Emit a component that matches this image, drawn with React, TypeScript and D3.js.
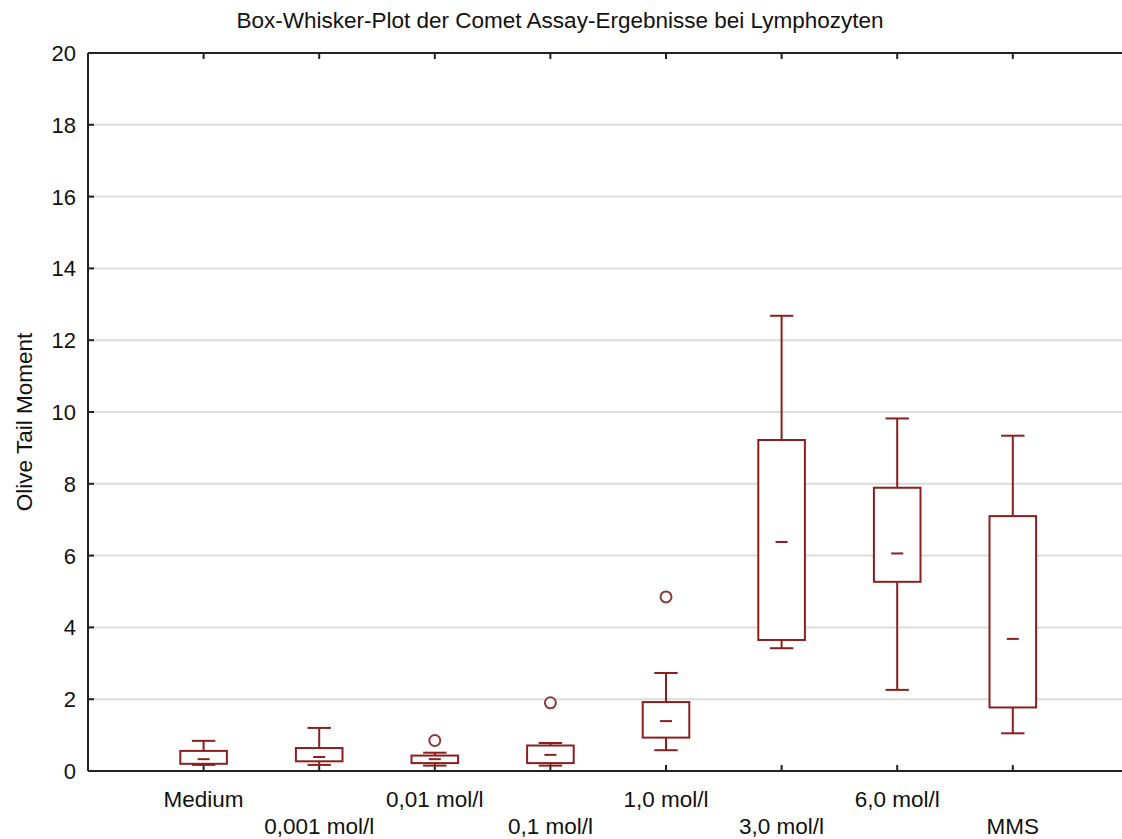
import React from 'react';
import * as d3 from 'd3';

// groups along the x axis
const categories = ['Medium', '0,001 mol/l', '0,01 mol/l', '0,1 mol/l', '1,0 mol/l', '3,0 mol/l', '6,0 mol/l', 'MMS'];

// box-whisker statistics
const whiskerHigh = [0.84, 1.2, 0.51, 0.78, 2.73, 12.68, 9.82, 9.34];
const boxHigh = [0.56, 0.64, 0.43, 0.71, 1.92, 9.22, 7.89, 7.1];
const medians = [0.33, 0.39, 0.33, 0.45, 1.39, 6.38, 6.06, 3.68];
const boxLow = [0.2, 0.27, 0.22, 0.22, 0.93, 3.65, 5.27, 1.77];
const whiskerLow = [0.17, 0.17, 0.15, 0.15, 0.58, 3.42, 2.26, 1.05];

// outliers: [category index, value]
const outliers: [number, number][] = [
  [2, 0.85],
  [3, 1.9],
  [4, 4.85],
];

const yTicks = [0, 2, 4, 6, 8, 10, 12, 14, 16, 18, 20];

const WIDTH = 1122;
const HEIGHT = 839;
const margin = { top: 53, left: 88, bottom: 68 };
const BOX_COLOR = '#8b1f1f';
const FONT = '"Liberation Sans", Arial, sans-serif';

const App: React.FC = () => {
  const innerBottom = HEIGHT - margin.bottom;

  const x = d3.scaleLinear()
    .domain([0, categories.length + 1])
    .range([margin.left, margin.left + 115.6 * (categories.length + 1)]);

  const y = d3.scaleLinear()
    .domain([0, 20])
    .range([innerBottom, margin.top]);

  const boxHalf = 23.3;
  const capHalf = 11.7;
  const medHalf = 6;

  return (
    <svg
      width={WIDTH}
      height={HEIGHT}
      style={{ position: 'absolute', left: 0, top: 0, background: '#fff' }}
      fontFamily={FONT}
    >
      {/* title */}
      <text x={560} y={28} textAnchor="middle" fontSize={22.5} fill="#111">
        Box-Whisker-Plot der Comet Assay-Ergebnisse bei Lymphozyten
      </text>

      {/* grid lines */}
      {yTicks.filter(t => t > 0 && t < 20).map(t => (
        <line key={'g' + t} x1={margin.left} x2={WIDTH} y1={y(t)} y2={y(t)} stroke="#dcdcdc" strokeWidth={2} />
      ))}

      {/* y axis */}
      <line x1={margin.left} x2={margin.left} y1={margin.top} y2={innerBottom} stroke="#222" strokeWidth={2} />
      {yTicks.map(t => (
        <g key={'y' + t}>
          <line x1={margin.left} x2={margin.left + 6} y1={y(t)} y2={y(t)} stroke="#222" strokeWidth={2} />
          <text x={76} y={y(t)} dy="0.36em" textAnchor="end" fontSize={22} fill="#111">{t}</text>
        </g>
      ))}
      <text
        transform={`translate(24,${(margin.top + innerBottom) / 2 + 10}) rotate(-90)`}
        textAnchor="middle"
        dy="0.36em"
        fontSize={22.5}
        fill="#111"
      >
        Olive Tail Moment
      </text>

      {/* top and bottom axes */}
      <line x1={margin.left} x2={WIDTH} y1={margin.top} y2={margin.top} stroke="#222" strokeWidth={2} />
      <line x1={margin.left} x2={WIDTH} y1={innerBottom} y2={innerBottom} stroke="#222" strokeWidth={2} />
      {categories.map((c, i) => (
        <g key={'x' + c}>
          <line x1={x(i + 1)} x2={x(i + 1)} y1={innerBottom} y2={innerBottom - 6} stroke="#222" strokeWidth={2} />
          <line x1={x(i + 1)} x2={x(i + 1)} y1={margin.top} y2={margin.top + 6} stroke="#222" strokeWidth={2} />
          <text
            x={x(i + 1)}
            y={i % 2 === 0 ? 807 : 834}
            textAnchor="middle"
            fontSize={22.5}
            fill="#111"
          >
            {c}
          </text>
        </g>
      ))}

      {/* boxes */}
      {categories.map((c, i) => {
        const cx = x(i + 1);
        return (
          <g key={'b' + c} stroke={BOX_COLOR} strokeWidth={2} fill="none">
            <line x1={cx} x2={cx} y1={y(whiskerHigh[i])} y2={y(boxHigh[i])} />
            <line x1={cx} x2={cx} y1={y(boxLow[i])} y2={y(whiskerLow[i])} />
            <line x1={cx - capHalf} x2={cx + capHalf} y1={y(whiskerHigh[i])} y2={y(whiskerHigh[i])} />
            <line x1={cx - capHalf} x2={cx + capHalf} y1={y(whiskerLow[i])} y2={y(whiskerLow[i])} />
            <rect
              x={cx - boxHalf}
              y={y(boxHigh[i])}
              width={boxHalf * 2}
              height={y(boxLow[i]) - y(boxHigh[i])}
              fill="#fff"
            />
            <line x1={cx - medHalf} x2={cx + medHalf} y1={y(medians[i])} y2={y(medians[i])} />
          </g>
        );
      })}

      {/* outliers */}
      {outliers.map(([i, v]) => (
        <circle key={'o' + i} cx={x(i + 1)} cy={y(v)} r={5.5} fill="#fff" stroke="#8b3a3a" strokeWidth={2} />
      ))}
    </svg>
  );
};

export default App;
